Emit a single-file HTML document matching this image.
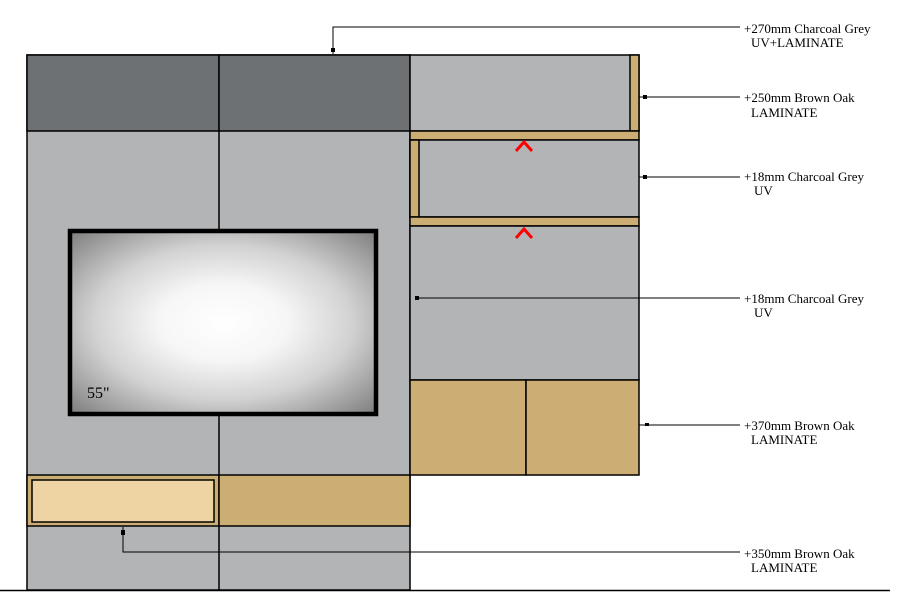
<!DOCTYPE html>
<html><head><meta charset="utf-8"><style>
html,body{margin:0;padding:0;background:#fff;}
svg{display:block;}
text{font-family:"Liberation Serif","Times New Roman",serif;font-size:13px;fill:#000;}
</style></head><body>
<svg width="899" height="606" viewBox="0 0 899 606" xmlns="http://www.w3.org/2000/svg">
<defs>
<radialGradient id="tv" cx="0.5" cy="0.5" r="0.7">
<stop offset="0" stop-color="#ffffff"/>
<stop offset="0.3" stop-color="#f6f6f6"/>
<stop offset="0.6" stop-color="#d2d2d2"/>
<stop offset="1" stop-color="#7e7e7e"/>
</radialGradient>
</defs>
<g stroke="#000" stroke-width="1.5">
<rect x="27" y="55" width="383" height="535" fill="#b3b4b6"/>
<rect x="27" y="55" width="192" height="76" fill="#6e7174"/>
<rect x="219" y="55" width="191" height="76" fill="#6e7174"/>
<line x1="219" y1="131" x2="219" y2="230"/>
<line x1="219" y1="415" x2="219" y2="590"/>
<rect x="27" y="475" width="192" height="51" fill="#ccae75"/>
<rect x="219" y="475" width="191" height="51" fill="#ccae75"/>
<rect x="32" y="480" width="182" height="42" fill="#edd4a2"/>
<rect x="410" y="55" width="229" height="76" fill="#b3b4b6"/>
<rect x="630" y="55" width="9" height="76" fill="#ccae75"/>
<rect x="410" y="131" width="229" height="9" fill="#ccae75"/>
<rect x="410" y="140" width="229" height="77" fill="#b3b4b6"/>
<rect x="410" y="140" width="9" height="77" fill="#ccae75"/>
<rect x="410" y="217" width="229" height="9" fill="#ccae75"/>
<rect x="410" y="226" width="229" height="154" fill="#b3b4b6"/>
<rect x="410" y="380" width="116" height="95" fill="#ccae75"/>
<rect x="526" y="380" width="113" height="95" fill="#ccae75"/>
</g>
<rect x="70" y="231" width="306" height="183" fill="url(#tv)" stroke="#000" stroke-width="4.5"/>
<text x="87" y="398" style="font-size:16px">55"</text>
<polyline points="516,151 524,142 532,151" fill="none" stroke="#f00" stroke-width="3"/>
<polyline points="516,238 524,229 532,238" fill="none" stroke="#f00" stroke-width="3"/>
<g stroke="#000" stroke-width="1" fill="none">
<polyline points="333,54 333,27 740,27"/>
<line x1="639" y1="97" x2="740" y2="97"/>
<line x1="639" y1="177" x2="740" y2="177"/>
<line x1="415" y1="298" x2="740" y2="298"/>
<line x1="639" y1="425" x2="740" y2="425"/>
<polyline points="123,527 123,552 740,552"/>
</g>
<line x1="0" y1="590.5" x2="890" y2="590.5" stroke="#000" stroke-width="1.5"/>
<g fill="#000">
<rect x="331" y="48" width="4" height="4"/>
<rect x="643" y="95" width="4" height="4"/>
<rect x="643" y="175" width="4" height="4"/>
<rect x="415" y="296" width="4" height="4"/>
<rect x="645" y="423" width="4" height="3"/>
<rect x="121" y="530" width="4" height="5"/>
</g>
<text x="744" y="33">+270mm Charcoal Grey</text>
<text x="751" y="47">UV+LAMINATE</text>
<text x="744" y="102">+250mm Brown Oak</text>
<text x="751" y="117">LAMINATE</text>
<text x="744" y="181">+18mm Charcoal Grey</text>
<text x="754" y="195">UV</text>
<text x="744" y="303">+18mm Charcoal Grey</text>
<text x="754" y="317">UV</text>
<text x="744" y="430">+370mm Brown Oak</text>
<text x="751" y="444">LAMINATE</text>
<text x="744" y="558">+350mm Brown Oak</text>
<text x="751" y="572">LAMINATE</text>
</svg>
</body></html>
